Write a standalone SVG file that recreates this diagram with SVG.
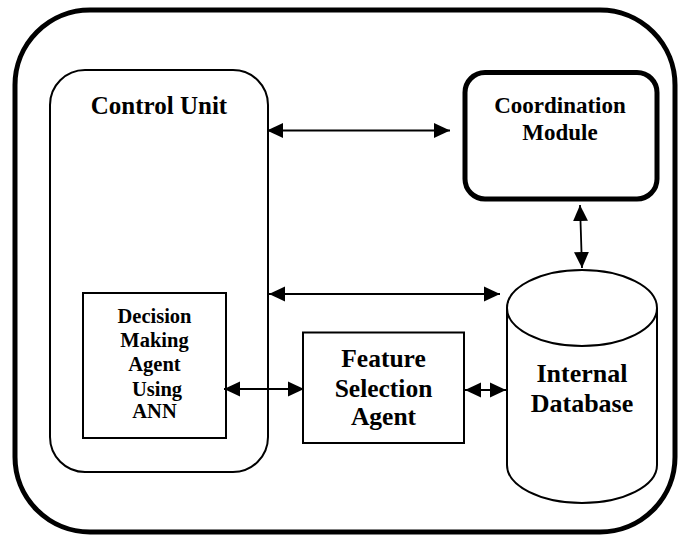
<svg xmlns="http://www.w3.org/2000/svg" width="686" height="535" viewBox="0 0 686 535">
<style>
.t{font-family:"Liberation Serif","Times New Roman",serif;font-weight:bold;fill:#000;text-anchor:middle}
.thin{fill:#fff;stroke:#000;stroke-width:2}
.thick{fill:#fff;stroke:#000;stroke-width:5}
.c{stroke:#000;stroke-width:1.8;fill:none;marker-start:url(#ah);marker-end:url(#ah)}
</style>
<defs>
<marker id="ah" markerUnits="userSpaceOnUse" markerWidth="16" markerHeight="16" viewBox="0 0 15 14" refX="15" refY="7" orient="auto-start-reverse">
<path d="M0,0 L15,7 L0,14 z" fill="#000"/>
</marker>
</defs>
<rect width="686" height="535" fill="#fff"/>
<g id="frame"><rect class="thick" x="15" y="10" width="660" height="522" rx="75"/></g>
<g id="control-unit">
<rect class="thin" x="50" y="70" width="218" height="402" rx="35"/>
<text class="t" x="159" y="114" font-size="25">Control Unit</text>
</g>
<g id="coordination-module">
<rect class="thick" x="465" y="72.5" width="192" height="126.5" rx="20"/>
<text class="t" x="560" y="113" font-size="23">Coordination</text>
<text class="t" x="560" y="140" font-size="23">Module</text>
</g>
<g id="decision-agent">
<rect class="thin" x="83" y="293" width="143" height="145"/>
<text class="t" x="154.5" y="323" font-size="20.5">Decision</text>
<text class="t" x="154.5" y="347" font-size="20.5">Making</text>
<text class="t" x="154.5" y="371" font-size="20.5">Agent</text>
<text class="t" x="157" y="396" font-size="20.5">Using</text>
<text class="t" x="154.5" y="418" font-size="20.5">ANN</text>
</g>
<g id="feature-selection">
<rect class="thin" x="303" y="332.5" width="161" height="110.5"/>
<text class="t" x="383.5" y="367" font-size="25.5">Feature</text>
<text class="t" x="383.5" y="397" font-size="25.5">Selection</text>
<text class="t" x="383.5" y="425" font-size="25.5">Agent</text>
</g>
<g id="internal-database">
<path class="thin" d="M507,308 L507,465 A75,38 0 0 0 657,465 L657,308"/>
<ellipse class="thin" cx="582" cy="308" rx="75" ry="38"/>
<text class="t" x="582" y="382" font-size="26">Internal</text>
<text class="t" x="582" y="412" font-size="26">Database</text>
</g>
<g id="connectors">
<line class="c" x1="267" y1="130.5" x2="450" y2="130.5"/>
<line class="c" x1="269" y1="294" x2="500" y2="294"/>
<line class="c" x1="224" y1="389" x2="304" y2="389"/>
<line class="c" x1="465" y1="390" x2="506" y2="390"/>
<line class="c" x1="580" y1="205" x2="582" y2="268"/>
</g>
</svg>
